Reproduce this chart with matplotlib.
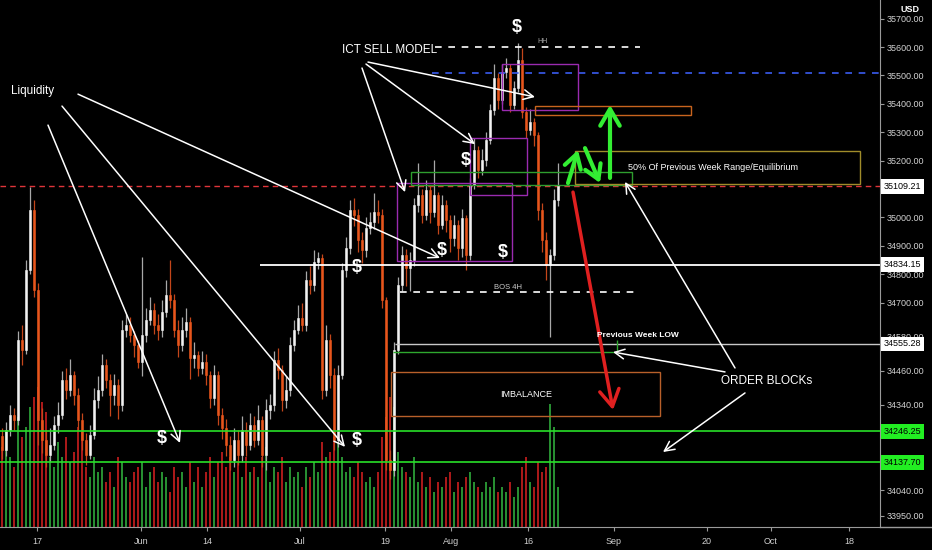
import matplotlib
matplotlib.use("Agg")
import matplotlib.pyplot as plt
import matplotlib.transforms as mtransforms
from matplotlib.patches import Rectangle
from matplotlib.lines import Line2D
import numpy as np

plt.rcParams['font.family'] = ['Liberation Sans', 'DejaVu Sans']

# ---- price data (one bar per session block) ----
first_open = 34230
closes = [34181, 34251, 34304, 34287, 34568, 34533, 34815, 35026, 34745, 34287,
          34216, 34163, 34199, 34269, 34304, 34427, 34392, 34445, 34375, 34287,
          34216, 34163, 34234, 34357, 34392, 34480, 34427, 34375, 34410, 34339,
          34604, 34621, 34586, 34551, 34491, 34586, 34639, 34674, 34621, 34604,
          34667, 34727, 34709, 34604, 34551, 34604, 34632, 34505, 34516, 34470,
          34491, 34445, 34364, 34445, 34304, 34258, 34199, 34146, 34216, 34163,
          34251, 34199, 34269, 34216, 34287, 34163, 34322, 34339, 34498, 34463,
          34357, 34392, 34551, 34604, 34646, 34621, 34780, 34762, 34843, 34857,
          34392, 34568, 34445, 34216, 34445, 34815, 34892, 35026, 35008, 34920,
          34885, 34963, 34984, 35019, 35008, 34709, 34146, 34111, 34533, 34762,
          34868, 34822, 34850, 35044, 35079, 35008, 35096, 35019, 35079, 34973,
          35044, 34991, 34927, 34973, 34892, 34998, 34868, 35114, 35237, 35167,
          35202, 35273, 35378, 35491, 35413, 35512, 35526, 35396, 35456, 35554,
          35371, 35308, 35336, 35290, 35026, 34920, 34833, 34868, 35061, 35109.21]
highs = [34260, 34280, 34340, 34330, 34600, 34620, 34850, 35107, 35060, 34770,
         34330, 34250, 34260, 34300, 34350, 34460, 34470, 34500, 34460, 34400,
         34310, 34240, 34270, 34400, 34440, 34520, 34500, 34450, 34450, 34430,
         34640, 34660, 34650, 34600, 34570, 34861, 34680, 34720, 34700, 34660,
         34710, 34780, 34850, 34730, 34640, 34650, 34680, 34650, 34560, 34530,
         34530, 34520, 34460, 34480, 34460, 34330, 34290, 34230, 34260, 34250,
         34300, 34280, 34310, 34300, 34340, 34300, 34360, 34380, 34530, 34540,
         34480, 34440, 34580, 34640, 34690, 34700, 34810, 34830, 34885, 34880,
         34870, 34620, 34590, 34470, 34480, 34840, 34930, 35061, 35070, 35030,
         34950, 35000, 35020, 35086, 35060, 35030, 34720, 34180, 34560, 34790,
         34900, 34890, 34880, 35070, 35192, 35100, 35130, 35110, 35202, 35090,
         35080, 35060, 35010, 35010, 34990, 35030, 35010, 35140, 35280, 35250,
         35240, 35300, 35400, 35540, 35510, 35540, 35560, 35540, 35480, 35614,
         35596, 35390, 35380, 35350, 35300, 35050, 34950, 34890, 35100, 35192]
lows = [34150, 34160, 34230, 34250, 34270, 34480, 34520, 34800, 34720, 34200,
        34170, 34120, 34140, 34180, 34240, 34290, 34360, 34370, 34340, 34250,
        34180, 34130, 34150, 34220, 34330, 34370, 34400, 34300, 34340, 34290,
        34320, 34580, 34560, 34510, 34470, 34440, 34560, 34620, 34590, 34570,
        34580, 34650, 34680, 34580, 34510, 34530, 34580, 34430, 34470, 34440,
        34450, 34410, 34330, 34340, 34270, 34220, 34160, 34110, 34120, 34130,
        34140, 34160, 34180, 34190, 34200, 34120, 34110, 34290, 34320, 34430,
        34320, 34330, 34370, 34530, 34590, 34600, 34600, 34730, 34740, 34820,
        34360, 34370, 34400, 34180, 34190, 34430, 34790, 34870, 34970, 34880,
        34840, 34860, 34940, 34960, 34980, 34680, 34110, 34080, 34090, 34520,
        34740, 34760, 34740, 34830, 35020, 34980, 34990, 34980, 35000, 34940,
        34960, 34950, 34880, 34900, 34850, 34860, 34815, 34850, 35100, 35140,
        35150, 35180, 35260, 35360, 35380, 35400, 35490, 35370, 35380, 35440,
        35350, 35280, 35290, 35250, 34990, 34880, 34780, 34580, 34850, 35040]
volumes_k = [8.0, 9.5, 7.0, 6.0, 11.0, 9.0, 10.0, 12.0, 13.0, 14.0,
             12.5, 11.5, 7.0, 6.0, 8.5, 7.0, 9.0, 6.5, 7.5, 10.0,
             9.5, 6.0, 5.0, 7.0, 5.5, 6.0, 4.5, 5.5, 4.0, 7.0,
             6.5, 5.0, 4.5, 5.5, 6.0, 6.5, 4.0, 5.5, 6.0, 4.5,
             5.5, 5.0, 3.5, 6.0, 5.0, 5.5, 4.0, 6.5, 4.5, 6.0,
             4.0, 5.5, 7.0, 5.0, 6.5, 7.5, 6.0, 7.0, 5.5, 6.5,
             5.0, 7.0, 5.5, 6.0, 5.0, 7.0, 8.0, 4.5, 6.0, 5.5,
             7.0, 4.5, 6.0, 5.0, 5.5, 4.0, 6.0, 5.0, 6.5, 5.5,
             8.5, 7.0, 7.5, 9.0, 8.5, 7.0, 5.5, 6.0, 5.0, 6.5,
             5.5, 4.5, 5.0, 4.0, 5.5, 9.0, 11.0, 13.0, 12.0, 7.5,
             6.0, 5.5, 5.0, 7.0, 4.5, 5.5, 4.0, 5.0, 3.5, 4.5,
             4.0, 5.0, 5.5, 3.5, 4.5, 4.0, 5.0, 5.5, 4.5, 4.0,
             3.5, 4.5, 4.0, 5.0, 3.5, 4.0, 3.5, 4.5, 3.0, 4.0,
             6.0, 7.0, 4.5, 4.0, 6.5, 5.5, 6.0, 12.3, 10.0, 4.0]

date_tick_pos = [8.75, 34.75, 51.25, 74.5, 95.75, 112.25, 131.5, 153, 176.25, 192.25, 211.75]
date_tick_labels = ['17', 'Jun', '14', 'Jul', '19', 'Aug', '16', 'Sep', '20', 'Oct', '18']
price_ticks = [35700, 35600, 35500, 35400, 35300, 35200, 35000, 34900, 34800,
               34700, 34580, 34460, 34340, 34040, 33950]

last_price = 35109.21
level_white = 34834.15
level_prev_low = 34555.28
level_green_hi = 34246.25
level_green_lo = 34137.70

# ---- figure ----
W, H = 932, 550
fig = plt.figure(figsize=(W / 100, H / 100), dpi=100, facecolor='black')
rect = [0, 23 / H, 880 / W, 527 / H]
ax_vol = fig.add_axes(rect, facecolor='black')
ax = fig.add_axes(rect, facecolor='none')

x = np.arange(len(closes))
opens = np.array([first_open] + closes[:-1], dtype=float)
cl = np.array(closes, dtype=float)
up = cl >= opens
XMIN, XMAX = -0.5, 219.5
YMIN, YMAX = 33910, 35765.5

# volume histogram
vol_colors = np.where(up, '#2fa83a', '#c81e1e')
ax_vol.bar(x, volumes_k, width=0.55, color=vol_colors, alpha=0.85, linewidth=0)
ax_vol.set_xlim(XMIN, XMAX)
ax_vol.set_ylim(0, 52.7)
ax_vol.axis('off')

# candles
wick_colors = np.where(up, '#a8a8a8', '#c4461a')
body_colors = np.where(up, '#f2f2f2', '#e8561c')
ax.vlines(x, lows, highs, colors=wick_colors, linewidth=0.9, zorder=3)
ax.bar(x, cl - opens, bottom=opens, width=0.6, color=body_colors,
       edgecolor=body_colors, linewidth=0.4, zorder=4)

ax.set_xlim(XMIN, XMAX)
ax.set_ylim(YMIN, YMAX)

# ---- horizontal levels ----
ax.axhline(last_price, color='#e0353a', lw=1.0, ls=(0, (4, 3)), zorder=2)
ax.hlines(level_white, 64.5, XMAX, color='white', lw=1.3, zorder=5)
ax.hlines(level_prev_low, 98.25, XMAX, color='#c8c8c8', lw=1.0, zorder=5)
ax.axhline(level_green_hi, color='#28e028', lw=1.2, zorder=5)
ax.axhline(level_green_lo, color='#28e028', lw=1.2, zorder=5)
ax.hlines(34526, 97.75, 153, color='#2ea82e', lw=1.0, zorder=5)
ax.vlines(153.75, 34530, 34568, color='#2ea82e', lw=1.0, zorder=5)

ax.hlines(35600, 108.25, 159.5, color='white', lw=1.2, ls=(0, (4, 4)), zorder=5)
ax.hlines(35508, 107.5, XMAX, color='#3a5cf0', lw=1.2, ls=(0, (4, 4)), zorder=5)
ax.hlines(34737, 99.5, 159.5, color='white', lw=1.2, ls=(0, (4, 4)), zorder=5)

# ---- zones ----
def zone(x0, x1, p0, p1, color, lw=1.0):
    ax.add_patch(Rectangle((x0, p0), x1 - x0, p1 - p0, fill=False,
                           edgecolor=color, lw=lw, zorder=5))

zone(125, 144, 35378, 35540, '#9a2bb0')
zone(117, 131.25, 35079, 35280, '#9a2bb0')
zone(98.75, 127.5, 34845, 35121, '#9a2bb0')
zone(102.25, 157.5, 35113, 35160, '#2e9e2e')
zone(133.25, 172.25, 35361, 35392, '#c8641e')
zone(143.25, 214.5, 35118, 35234, '#a08c2a')
zone(97.25, 164.5, 34301, 34456, '#b8602a')

# ---- arrows ----
def pointer(start, end, color='white', lw=1.1, head=(0.7, 0.35)):
    ax.annotate('', xy=end, xytext=start, zorder=7,
                arrowprops=dict(arrowstyle=f'->,head_length={head[0]},head_width={head[1]}',
                                color=color, lw=lw, shrinkA=0, shrinkB=0))

# ICT sell model callouts
pointer((91.5, 35547), (133.25, 35424))
pointer((91.0, 35540), (118.25, 35258))
pointer((90.0, 35526), (100.75, 35089))
# liquidity callouts
pointer((11.5, 35325), (44.5, 34206))
pointer((15.0, 35392), (85.75, 34192))
pointer((19.0, 35434), (109.5, 34857))
# order block callouts
pointer((183.25, 34470), (155.75, 35125))
pointer((180.75, 34456), (152.75, 34526))
pointer((185.75, 34382), (165.25, 34174))

# projected moves
pointer((141.5, 35121), (144.0, 35237), color='#33ee33', lw=3, head=(1.0, 0.6))
pointer((145.75, 35244), (149.5, 35121), color='#33ee33', lw=3, head=(1.0, 0.6))
pointer((152.0, 35139), (152.0, 35396), color='#33ee33', lw=3, head=(1.2, 0.7))
pointer((142.75, 35089), (152.75, 34322), color='#e02020', lw=2.5, head=(1.2, 0.7))

# ---- labels ----
txt = dict(color='white', zorder=8)
ax.text(97, 35589, 'ICT SELL MODEL', fontsize=8.5, ha='center', va='center', **txt)
ax.text(7.75, 35445, 'Liquidity', fontsize=8.5, ha='center', va='center', **txt)
ax.text(191.25, 34424, 'ORDER BLOCKs', fontsize=8.5, ha='center', va='center', **txt)
ax.text(156.5, 35177, '50% Of Previous Week Range/Equilibrium', fontsize=6.5,
        ha='left', va='center', **txt)
ax.text(131, 34378, 'IMBALANCE', fontsize=6.5, ha='center', va='center', **txt)
ax.text(159, 34586, 'Previous Week LOW', fontsize=6, fontweight='bold',
        ha='center', va='center', **txt)
ax.text(126.5, 34755, 'BOS 4H', fontsize=5.5, ha='center', va='center',
        color='#cccccc', zorder=8)
ax.text(135, 35618, 'HH', fontsize=5, ha='center', va='center', color='#aaaaaa', zorder=8)

for px, pp in [(128.75, 35667), (116, 35202), (110, 34885), (125.25, 34875),
               (88.75, 34822), (40, 34223), (88.75, 34213)]:
    ax.text(px, pp, '$', fontsize=13, fontweight='bold', ha='center', va='center', **txt)

# ---- axes styling ----
for side in ['top', 'left']:
    ax.spines[side].set_visible(False)
ax.spines['right'].set_color('#9a9a9a')
ax.spines['bottom'].set_color('#9a9a9a')
ax.yaxis.tick_right()
ax.set_yticks(price_ticks)
ax.set_yticklabels([f'{p:.2f}' for p in price_ticks])
ax.set_xticks(date_tick_pos)
ax.set_xticklabels(date_tick_labels)
ax.tick_params(axis='y', colors='#9a9a9a', labelcolor='#d2d2d2', labelsize=6.5,
               length=3, pad=2)
ax.tick_params(axis='x', colors='#9a9a9a', labelcolor='#cfcfcf', labelsize=6.5,
               length=3, pad=4)

fig.add_artist(Line2D([880 / W, 1], [23 / H, 23 / H], color='#9a9a9a', lw=1,
                      transform=fig.transFigure))

# boxed price labels on the scale
trans = mtransforms.blended_transform_factory(ax.transAxes, ax.transData)
for p, fc in [(last_price, 'white'), (level_white, 'white'), (level_prev_low, 'white'),
              (level_green_hi, '#22ee22'), (level_green_lo, '#22ee22')]:
    ax.text(1.004, p, f'{p:.2f}', transform=trans, fontsize=6.5, color='black',
            ha='left', va='center', zorder=10, clip_on=False,
            bbox=dict(boxstyle='square,pad=0.3', fc=fc, ec='none'))

fig.text(910 / W, 1 - 9 / H, 'USD', fontsize=6.5, color='white', ha='center',
         va='center', fontweight='bold')

fig.savefig('out.png', dpi=100, facecolor='black')
